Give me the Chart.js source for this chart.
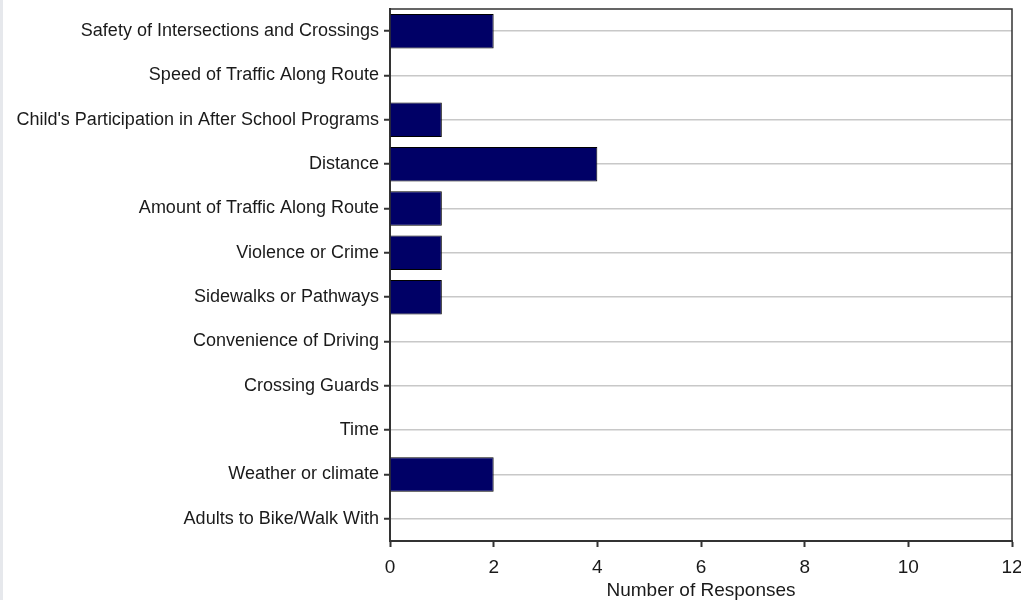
<!DOCTYPE html>
<html><head><meta charset="utf-8">
<script src="https://cdn.jsdelivr.net/npm/chart.js@4/dist/chart.umd.min.js"></script>
<style>
html,body{margin:0;padding:0;background:#fff;}
body{width:1021px;height:600px;position:relative;overflow:hidden;}
#strip{position:absolute;left:0;top:0;width:3px;height:600px;background:#e6e8ec;z-index:2;}
#wrap{position:absolute;left:0;top:0;width:1021px;height:600px;}
</style></head>
<body><div id="strip"></div><div id="wrap"><canvas id="c" width="1021" height="600"></canvas></div>
<script>
const categories = ["Safety of Intersections and Crossings","Speed of Traffic Along Route","Child's Participation in After School Programs","Distance","Amount of Traffic Along Route","Violence or Crime","Sidewalks or Pathways","Convenience of Driving","Crossing Guards","Time","Weather or climate","Adults to Bike/Walk With"];
const responses = [2,0,1,4,1,1,1,0,0,0,2,0];
const xTicks = [0,2,4,6,8,10,12];
const xTitle = "Number of Responses";

const frame = {
  id:'frame',
  afterDraw(chart){
    const {ctx, chartArea:a} = chart;
    ctx.save();
    ctx.strokeStyle='#333';
    ctx.lineWidth=1.5;
    ctx.beginPath();
    ctx.moveTo(a.left,a.top);ctx.lineTo(a.right,a.top);ctx.lineTo(a.right,a.bottom);
    ctx.stroke();
    ctx.restore();
  }
};
Chart.defaults.font.family = "'Liberation Sans', Arial, sans-serif";
Chart.defaults.font.size = 19;
Chart.defaults.color = '#1a1a1a';
new Chart(document.getElementById('c'),{
  type:'bar',
  data:{labels:categories,datasets:[{data:responses,backgroundColor:'#000066',borderColor:'#000',borderWidth:1,barPercentage:0.78,categoryPercentage:1}]},
  options:{
    indexAxis:'y',responsive:false,animation:false,
    layout:{padding:{top:9,right:9,left:0,bottom:0}},
    plugins:{legend:{display:false},tooltip:{enabled:false}},
    scales:{
      x:{min:0,max:12,
        afterBuildTicks(s){s.ticks=xTicks.map(v=>({value:v}));},
        afterFit(s){s.height=59;s.paddingLeft=0;s.paddingRight=0;},
        grid:{drawOnChartArea:false,tickColor:'#333',tickLength:6,tickWidth:2},
        border:{color:'#333',width:2},
        ticks:{padding:9,color:'#1a1a1a'},
        title:{display:true,text:xTitle,color:'#1a1a1a',font:{size:19,lineHeight:1.0},padding:{top:0,bottom:0}}
      },
      y:{
        afterFit(s){s.width=390;s.paddingTop=0;s.paddingBottom=0;},
        grid:{offset:false,color:'#c8c8c8',lineWidth:1.5,tickColor:'#333',tickLength:6,tickWidth:2},
        border:{color:'#333',width:2},
        ticks:{padding:5,color:'#1a1a1a',font:{size:18}}
      }
    }
  },
  plugins:[frame]
});
</script></body></html>
